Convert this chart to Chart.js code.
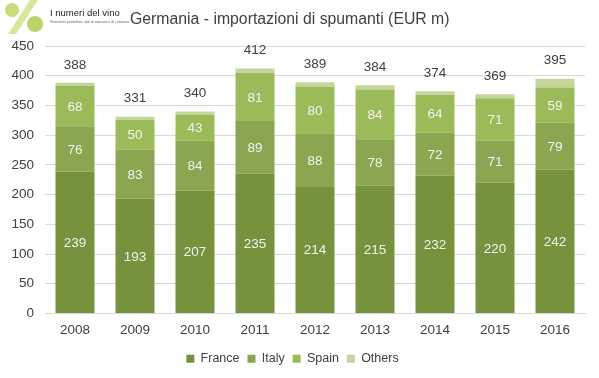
<!DOCTYPE html>
<html><head><meta charset="utf-8">
<script src="https://cdn.jsdelivr.net/npm/chart.js@4.4.1/dist/chart.umd.min.js"></script>
<style>
html,body{margin:0;padding:0;background:#fff;}
#wrap{position:relative;width:599px;height:378px;}
#title{position:absolute;left:130px;top:10px;font-family:"Liberation Sans",Arial,sans-serif;font-size:15.8px;color:#404040;white-space:nowrap;}
#logo{position:absolute;left:0;top:0;width:118px;height:34px;background:#fff;}
#logoTxt{position:absolute;left:50px;top:7px;font-family:"Liberation Sans",Arial,sans-serif;font-size:9.5px;color:#222;white-space:nowrap;}
#logoSub{position:absolute;left:50px;top:20px;font-family:"Liberation Sans",Arial,sans-serif;font-size:3.5px;color:#666;white-space:nowrap;}
canvas{position:absolute;left:0;top:0;}
</style></head>
<body><div id="wrap">
<canvas id="c" width="599" height="378"></canvas>
<div id="logo">
<svg width="48" height="34" style="position:absolute;left:0;top:0">
<circle cx="12" cy="10" r="7" fill="#c6dc7a"/>
<circle cx="35" cy="24" r="8" fill="#b9d46a"/>
<polygon points="30,0 38,0 16,34 8,34" fill="#d8e89a"/>
</svg>
<div id="logoTxt">I numeri del vino</div>
<div id="logoSub">Statistiche produttive, dati di mercato e di consumo</div>
</div>
<div id="title">Germania - importazioni di spumanti (EUR m)</div>
</div>
<script>
const categories = ["2008","2009","2010","2011","2012","2013","2014","2015","2016"];
const france = [239,193,207,235,214,215,232,220,242];
const italy  = [76,83,84,89,88,78,72,71,79];
const spain  = [68,50,43,81,80,84,64,71,59];
const others = [5,5,6,7,7,7,6,7,15];
const totals = [388,331,340,412,389,384,374,369,395];
const yTicks = [0,50,100,150,200,250,300,350,400,450];

const FONT = "Liberation Sans";
const labelPlugin = {
  id:'labels',
  afterDatasetsDraw(chart){
    const ctx = chart.ctx;
    ctx.save();
    ctx.font = "13.5px " + FONT;
    ctx.textAlign = 'center';
    ctx.textBaseline = 'middle';
    for (let d=0; d<3; d++){
      const meta = chart.getDatasetMeta(d);
      meta.data.forEach((bar,i)=>{
        const v = chart.data.datasets[d].data[i];
        ctx.fillStyle = '#f2f2f2';
        ctx.fillText(String(v), bar.x, (bar.y + bar.base)/2 + 1);
      });
    }
    const top = chart.getDatasetMeta(3);
    top.data.forEach((bar,i)=>{
      ctx.fillStyle = '#404040';
      ctx.fillText(String(totals[i]), bar.x, bar.y - 18);
    });
    ctx.restore();
  }
};

new Chart(document.getElementById('c'), {
  type:'bar',
  data:{
    labels: categories,
    datasets:[
      {label:'France', data:france, backgroundColor:'#76923c'},
      {label:'Italy', data:italy, backgroundColor:'#8aa651'},
      {label:'Spain', data:spain, backgroundColor:'#9bbb59'},
      {label:'Others', data:others, backgroundColor:'#c3d69b'}
    ]
  },
  options:{
    responsive:false,
    animation:false,
    devicePixelRatio:1,
    layout:{padding:{left:0,right:14,top:46,bottom:3}},
    datasets:{bar:{categoryPercentage:0.65,barPercentage:1}},
    scales:{
      x:{stacked:true,
         grid:{display:false},
         border:{color:'#d9d9d9'},
         ticks:{color:'#404040',font:{family:FONT,size:13.5},padding:1},
         afterFit(s){s.height=31;}},
      y:{stacked:true,min:0,max:450,
         afterFit(s){s.width=45;},
         afterBuildTicks(s){s.ticks = yTicks.map(v=>({value:v}));},
         grid:{color:'#d9d9d9',drawTicks:false},
         border:{display:false},
         ticks:{color:'#404040',font:{family:FONT,size:13.5},padding:11}}
    },
    plugins:{
      legend:{position:'bottom',
        labels:{boxWidth:8,boxHeight:8,color:'#404040',font:{family:FONT,size:12.5},padding:8}},
      tooltip:{enabled:false}
    }
  },
  plugins:[labelPlugin]
});
</script>
</body></html>
